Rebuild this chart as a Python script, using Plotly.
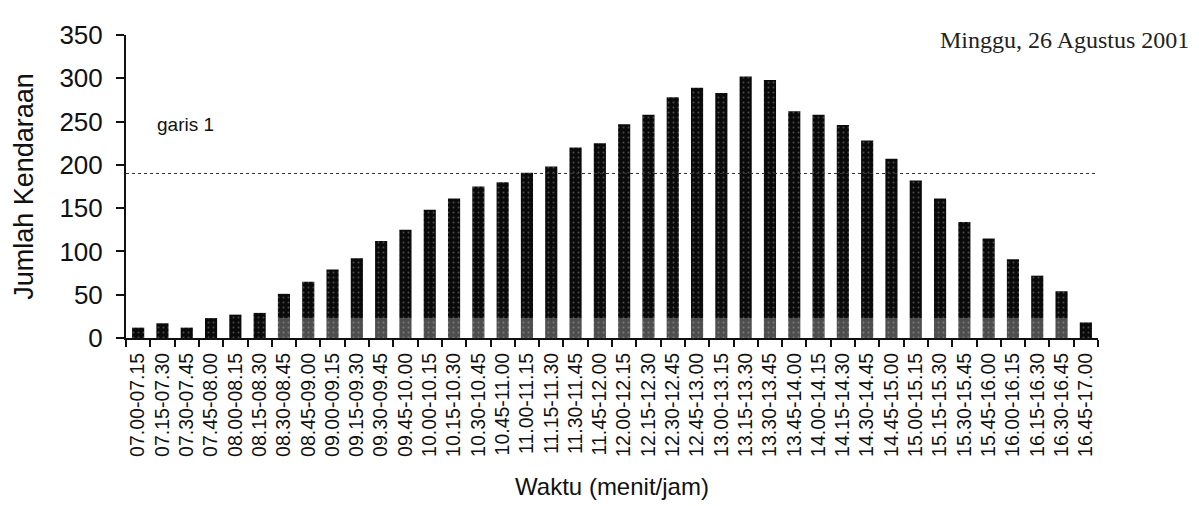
import plotly.graph_objects as go

categories = [
    "07.00-07.15", "07.15-07.30", "07.30-07.45", "07.45-08.00", "08.00-08.15",
    "08.15-08.30", "08.30-08.45", "08.45-09.00", "09.00-09.15", "09.15-09.30",
    "09.30-09.45", "09.45-10.00", "10.00-10.15", "10.15-10.30", "10.30-10.45",
    "10.45-11.00", "11.00-11.15", "11.15-11.30", "11.30-11.45", "11.45-12.00",
    "12.00-12.15", "12.15-12.30", "12.30-12.45", "12.45-13.00", "13.00-13.15",
    "13.15-13.30", "13.30-13.45", "13.45-14.00", "14.00-14.15", "14.15-14.30",
    "14.30-14.45", "14.45-15.00", "15.00-15.15", "15.15-15.30", "15.30-15.45",
    "15.45-16.00", "16.00-16.15", "16.15-16.30", "16.30-16.45", "16.45-17.00",
]
jumlah_kendaraan = [
    12, 17, 12, 23, 27, 29, 51, 65, 79, 92,
    112, 125, 148, 161, 175, 180, 191, 198, 220, 225,
    247, 258, 278, 289, 283, 302, 298, 262, 258, 246,
    228, 207, 182, 161, 134, 115, 91, 72, 54, 18,
]
garis_1 = 190
y_ticks = [0, 50, 100, 150, 200, 250, 300, 350]

fig = go.Figure()
fig.add_trace(go.Bar(
    x=categories, y=jumlah_kendaraan,
    marker=dict(color="#0a0a0a", line=dict(width=0),
                pattern=dict(shape=".", fgcolor="#8a8a8a", bgcolor="#0a0a0a",
                             size=5, solidity=0.12)),
    showlegend=False,
))

# dotted reference line
fig.add_shape(type="line", xref="paper", yref="y", x0=0, x1=0.997,
              y0=garis_1, y1=garis_1,
              line=dict(color="#333", width=1, dash="dot"))

# lighter band at the foot of the bars (scan effect)
fig.add_shape(type="rect", xref="x", yref="y", x0=5.5, x1=38.5, y0=0, y1=23,
              fillcolor="rgba(255,255,255,0.28)", line=dict(width=0), layer="above")

fig.add_annotation(text="garis 1", xref="paper", yref="y", x=0.03, y=247,
                   xanchor="left", yanchor="middle", showarrow=False,
                   font=dict(family="Liberation Sans, Arial", size=19, color="#111"))
fig.add_annotation(text="Minggu, 26 Agustus 2001", xref="paper", yref="paper",
                   x=1.096, y=0.985, xanchor="right", yanchor="middle", showarrow=False,
                   font=dict(family="Liberation Serif, Times New Roman", size=24, color="#222"))

fig.update_layout(
    width=1199, height=506,
    margin=dict(l=118, r=109, t=22, b=176),
    paper_bgcolor="white", plot_bgcolor="white",
    bargap=0.5,
    font=dict(family="Liberation Sans, Arial", color="#111"),
)
fig.update_xaxes(
    type="category", tickangle=-90, tickson="boundaries",
    ticks="outside", ticklen=7, tickwidth=1.5, tickcolor="#111",
    showline=True, linecolor="#111", linewidth=2,
    tickfont=dict(size=19.5), ticklabelstandoff=5,
    title=dict(text="Waktu (menit/jam)", font=dict(size=24), standoff=22),
    showgrid=False,
)
fig.update_yaxes(
    range=[0, 350], tickvals=y_ticks,
    ticks="outside", ticklen=8, tickwidth=1.5, tickcolor="#111",
    showline=True, linecolor="#111", linewidth=2,
    tickfont=dict(size=26), ticklabelstandoff=8,
    title=dict(text="Jumlah Kendaraan", font=dict(size=27), standoff=18),
    showgrid=False, zeroline=False,
)

fig.write_html("out.html")
